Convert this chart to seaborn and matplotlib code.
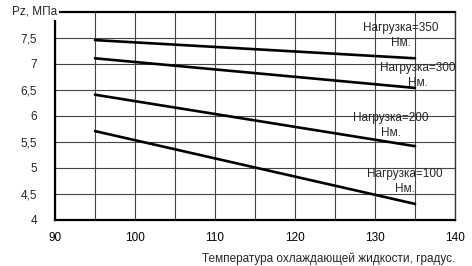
import matplotlib
matplotlib.use("Agg")
import matplotlib.pyplot as plt
import seaborn as sns
import pandas as pd

temps = [95, 135]
load_350 = [7.45, 7.10]
load_300 = [7.10, 6.53]
load_200 = [6.40, 5.41]
load_100 = [5.70, 4.30]
loads = ["350", "300", "200", "100"]
series = [load_350, load_300, load_200, load_100]
label_pos = [(401, 7.535), (418, 6.765), (391, 5.815), (405, 4.725)]  # (pixel x, value y) of label centre

rows = []
for name, vals in zip(loads, series):
    for t, v in zip(temps, vals):
        rows.append({"t": t, "pz": v, "load": name})
df = pd.DataFrame(rows)

sns.set_style("white")
plt.rcParams["font.family"] = ["Liberation Sans", "DejaVu Sans"]

fig = plt.figure(figsize=(4.72, 2.66), dpi=100)
ax = fig.add_axes([55 / 472, 1 - 219.5 / 266, 400 / 472, 208 / 266])

sns.lineplot(data=df, x="t", y="pz", hue="load", palette=["black"] * 4,
             linewidth=1.9, legend=False, ax=ax, zorder=3)

ax.set_xlim(90, 140)
ax.set_ylim(4, 8)
ax.set_xticks([90, 100, 110, 120, 130, 140])
ax.set_xticklabels(["90", "100", "110", "120", "130", "140"])
ax.set_xticks([95, 105, 115, 125, 135], minor=True)
yt = [4, 4.5, 5, 5.5, 6, 6.5, 7, 7.5]
ax.set_yticks(yt)
ax.set_yticklabels(["4", "4,5", "5", "5,5", "6", "6,5", "7", "7,5"])
ax.grid(True, which="both", color="#444444", linewidth=0.8)
ax.tick_params(axis="x", which="both", length=0, pad=9, labelsize=8.5, colors="black")
ax.tick_params(axis="y", length=5, width=0.8, color="#444444", pad=8, labelsize=8.5)
ax.set_xlabel("Температура охлаждающей жидкости, градус.", fontsize=8.5, loc="right", labelpad=6)
ax.set_ylabel("")

for side in ["left", "bottom", "top"]:
    ax.spines[side].set_visible(True)
    ax.spines[side].set_color("black")
    ax.spines[side].set_linewidth(1.6)
ax.spines["right"].set_visible(True)
ax.spines["right"].set_color("#333333")
ax.spines["right"].set_linewidth(1.0)

texts = ["Нагрузка=350\nНм.", "Нагрузка=300\nНм.", "Нагрузка=200\nНм.", "Нагрузка=100\nНм."]
for (px, yv), txt in zip(label_pos, texts):
    xv = 90 + (px - 55) / 8.0
    ax.text(xv, yv, txt, ha="center", va="center", fontsize=8.5, linespacing=1.35,
            multialignment="center", zorder=4)

ax.text(0.005, 1.0, "Pz, МПа", transform=ax.transAxes, ha="right", va="center",
        fontsize=8.5, clip_on=False, zorder=5,
        bbox=dict(facecolor="white", edgecolor="none", pad=1.5))

fig.savefig("out.png", dpi=100)
